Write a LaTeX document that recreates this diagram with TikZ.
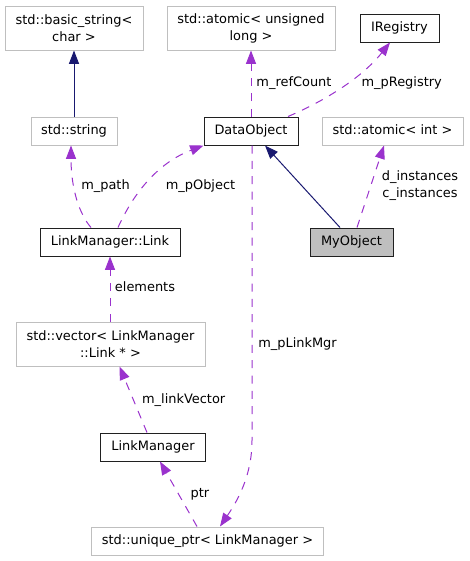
\documentclass[tikz,border=0pt]{standalone}
\usepackage{fontspec}
\setmainfont{DejaVu Sans}
\usetikzlibrary{arrows.meta,calc}
\definecolor{edgenavy}{HTML}{191970}
\definecolor{edgepurple}{HTML}{9A32CD}
\definecolor{boxgray}{HTML}{BFBFBF}
\definecolor{boxdark}{HTML}{202020}
\begin{document}
\begin{tikzpicture}[x=0.75pt,y=-0.75pt,
  every node/.style={font=\fontsize{9.7}{12.75}\selectfont, inner sep=0pt},
  sz/.style 2 args={minimum width=#1*0.75pt, minimum height=#2*0.75pt},
  box/.style={draw=boxdark, line width=0.75pt, fill=white, align=center},
  one/.style={text height=0.75em, text depth=0.25em},
  gbox/.style={box, draw=boxgray},
  cur/.style={box, fill=boxgray},
  lbl/.style={one},
  inh/.style={draw=edgenavy, line width=0.75pt, -{Triangle[length=10pt,width=7.5pt]}, edgenavy},
  use/.style={draw=edgepurple, line width=0.75pt, dash pattern=on 6pt off 5.5pt, -{Triangle[length=10pt,width=7.5pt]}, edgepurple}
]
\useasboundingbox (0,0) rectangle (469,561);

% nodes
\node[gbox, sz={138}{44}] (bs) at (74,28) {std::basic\_string<\\char >};
\node[gbox, one, sz={86}{28}] (str) at (74,131) {std::string};
\node[gbox, sz={168}{44}] (aul) at (251,28) {std::atomic< unsigned\\long >};
\node[box, one, sz={79}{28}] (ireg) at (399.5,28) {IRegistry};
\node[box, one, sz={94}{28}] (dobj) at (251,131) {DataObject};
\node[gbox, one, sz={141}{28}] (aint) at (392.5,131) {std::atomic< int >};
\node[box, one, sz={140}{28}] (link) at (110,242) {LinkManager::Link};
\node[cur, one, sz={83}{28}] (myobj) at (351.5,242) {MyObject};
\node[gbox, sz={189}{44}] (vec) at (110.5,344) {std::vector< LinkManager\\::Link * >};
\node[box, one, sz={105}{28}] (lm) at (153,447) {LinkManager};
\node[gbox, one, sz={232}{28}] (up) at (207.5,541) {std::unique\_ptr< LinkManager >};

% edges
\draw[inh] (str.north) -- (bs.south);
\draw[use] ($(link.north)+(-19,0)$) .. controls (80,215) and (71,190) .. ($(str.south)+(-3,0)$);
\draw[use] ($(link.north)+(8,0)$) .. controls (135,190) and (160,162) .. (dobj.south west);
\draw[use] (dobj.north) -- (aul.south);
\draw[use] ($(dobj.north)+(37,0)$) .. controls (320,103) and (360,80) .. ($(ireg.south)+(-9.5,0)$);
\draw[inh] ($(myobj.north)+(-11.5,0)$) -- ($(dobj.south)+(14,0)$);
\draw[use] ($(myobj.north)+(5.5,0)$) -- ($(aint.south)+(-8.5,0)$);
\draw[use] ($(vec.north)+(-0.5,0)$) -- (link.south);
\draw[use] ($(lm.north)+(-6,0)$) -- ($(vec.south)+(9,0)$);
\draw[use] ($(up.north)+(-10.5,0)$) -- ($(lm.south)+(7,0)$);
\draw[use] ($(dobj.south)+(1,0)$) -- ($(dobj.south)+(1,295)$) .. controls (252,475) and (238,500) .. ($(up.north)+(12.5,0)$);

% labels
\node[lbl] (lpath) at (105.5,186) {m\_path};
\node[lbl] (lpobj) at (200.5,186) {m\_pObject};
\node[lbl] (lref) at (294,83) {m\_refCount};
\node[lbl] (lreg) at (401.7,83) {m\_pRegistry};
\node[align=center] (linst) at (420,186) {d\_instances\\c\_instances};
\node[lbl] (lelem) at (145,288) {elements};
\node[lbl] (llv) at (183.7,400) {m\_linkVector};
\node[lbl] (lptr) at (200,494) {ptr};
\node[lbl] (llm) at (297.5,344) {m\_pLinkMgr};
\end{tikzpicture}
\end{document}
